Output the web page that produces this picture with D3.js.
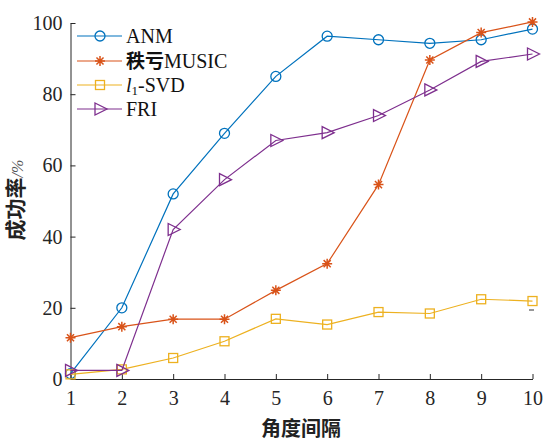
<!DOCTYPE html>
<html><head><meta charset="utf-8">
<script src="https://cdn.jsdelivr.net/npm/d3@7"></script>
<style>body{margin:0;background:#fff}</style>
</head><body>
<svg id="c" width="544" height="441"></svg>
<script>
const xValues = [1,2,3,4,5,6,7,8,9,10];
const anm = [1.5,20,52,69,85,96.3,95.3,94.3,95.3,98.3];
const music = [11.6,14.7,16.8,16.8,24.9,32.4,54.6,89.6,97.3,100.3];
const l1svd = [1.3,2.7,5.9,10.6,16.9,15.3,18.8,18.4,22.4,21.9];
const fri = [2.4,2.4,42,56,67,69.2,74,81.2,89.2,91.3];
const yTicks = [0,20,40,60,80,100];
const seriesNames = ["ANM","MUSIC","l1-SVD","FRI"];
const colors = ["#0072BD","#D95319","#EDB120","#7E2F8E"];
const markers = ["circle","star","square","triangle"];

const svg = d3.select("#c");
const x = d3.scaleLinear().domain([1,10]).range([70.5,532.5]);
const y = d3.scaleLinear().domain([0,100]).range([379,23]);
const serif = "'Liberation Serif','Times New Roman',serif";
const cjk = "'Noto Sans CJK SC',sans-serif";

// axes
const xAxis = d3.axisBottom(x).tickValues(xValues).tickSizeInner(-5).tickSizeOuter(0).tickPadding(12);
const yAxis = d3.axisLeft(y).tickValues(yTicks).tickSizeInner(-5).tickSizeOuter(0).tickPadding(8);
const gx = svg.append("g").attr("transform","translate(0,379)").call(xAxis);
const gy = svg.append("g").attr("transform","translate(70.5,0)").call(yAxis);
[gx,gy].forEach(g=>{
  g.attr("font-family",serif).attr("font-size",20);
  g.selectAll("path,line").attr("stroke","#262626").attr("stroke-width",1);
  g.selectAll("text").attr("font-family",serif).attr("font-size",20).attr("fill","#262626");
});

const data = [anm,music,l1svd,fri];
const line = d3.line().x((d,i)=>x(xValues[i])).y(d=>y(d));

function drawMarker(g, type, cx, cy, color){
  if(type==="circle"){
    g.append("circle").attr("cx",cx).attr("cy",cy).attr("r",5).attr("fill","none").attr("stroke",color).attr("stroke-width",1.3);
  } else if(type==="square"){
    g.append("rect").attr("x",cx-4.5).attr("y",cy-4.5).attr("width",9).attr("height",9).attr("fill","none").attr("stroke",color).attr("stroke-width",1.3);
  } else if(type==="triangle"){
    g.append("path").attr("d",`M${cx-5},${cy-6}L${cx+7},${cy}L${cx-5},${cy+6}Z`).attr("fill","none").attr("stroke",color).attr("stroke-width",1.3);
  } else if(type==="star"){
    const r=5;
    let d="";
    for(let k=0;k<4;k++){const a=k*Math.PI/4;d+=`M${cx-r*Math.cos(a)},${cy-r*Math.sin(a)}L${cx+r*Math.cos(a)},${cy+r*Math.sin(a)}`;}
    g.append("path").attr("d",d).attr("stroke",color).attr("stroke-width",1.5).attr("fill","none");
  }
}

data.forEach((s,si)=>{
  const g = svg.append("g");
  g.append("path").datum(s).attr("d",line).attr("fill","none").attr("stroke",colors[si]).attr("stroke-width",1.2);
  s.forEach((v,i)=>drawMarker(g,markers[si],x(xValues[i]),y(v),colors[si]));
});

// legend
const legY = [36,61,85,109];
legY.forEach((ly,i)=>{
  const g = svg.append("g");
  g.append("line").attr("x1",77).attr("x2",122).attr("y1",ly).attr("y2",ly).attr("stroke",colors[i]).attr("stroke-width",1.2);
  drawMarker(g,markers[i],100,ly,colors[i]);
  const t = g.append("text").attr("x",126).attr("y",ly+7).attr("font-family",serif).attr("font-size",20).attr("fill","#111");
  if(i===0) t.text("ANM");
  else if(i===1){ t.append("tspan").attr("font-family",cjk).attr("font-weight","bold").attr("font-size",19).text("秩亏"); t.append("tspan").text("MUSIC"); }
  else if(i===2){ t.append("tspan").attr("font-style","italic").text("l"); t.append("tspan").attr("font-size",13).attr("dy",3).text("1"); t.append("tspan").attr("dy",-3).text("-SVD"); }
  else t.text("FRI");
});

// small dash artifact
svg.append("line").attr("x1",529).attr("x2",534).attr("y1",310).attr("y2",310).attr("stroke","#333").attr("stroke-width",1);

// axis labels
const yl = svg.append("text").attr("transform","translate(23,200) rotate(-90)").attr("text-anchor","middle");
yl.append("tspan").attr("font-family",cjk).attr("font-weight","bold").attr("font-size",21).attr("fill","#222").text("成功率");
yl.append("tspan").attr("font-family",serif).attr("font-size",16).attr("fill","#555").attr("font-style","italic").text("/%");
svg.append("text").attr("x",301).attr("y",436).attr("text-anchor","middle").attr("font-family",cjk).attr("font-weight","bold").attr("font-size",20).attr("fill","#222").text("角度间隔");
</script>
</body></html>
